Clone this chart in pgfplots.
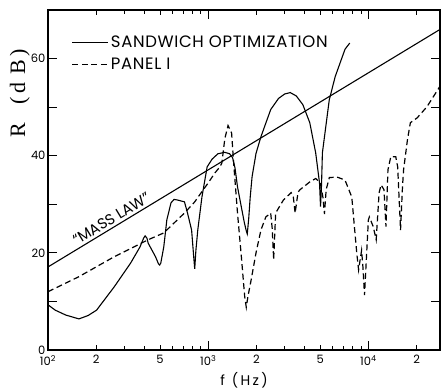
\documentclass[border=0pt]{standalone}
\usepackage{pgfplots}
\pgfplotsset{compat=1.18}
\usepackage{fontspec}
\setmainfont{Poppins}
\newfontfamily\seriffont{Liberation Serif}
\begin{document}
\begin{tikzpicture}
\begin{axis}[
  at={(0pt,0pt)}, anchor=south west,
  scale only axis, width=392pt, height=340pt,
  xmode=log, xmin=100, xmax=28000, ymin=0, ymax=70,
  axis line style={line width=1.1pt},
  tick align=inside, tick style={black, line width=0.8pt},
  major tick length=9pt, minor tick length=4pt,
  xtick={100,1000,10000},
  xticklabels={10\textsuperscript{2},10\textsuperscript{3},10\textsuperscript{4}},
  extra x ticks={200,500,2000,5000,20000},
  extra x tick labels={2,5,2,5,2},
  extra x tick style={major tick length=5pt},
  minor xtick={300,400,600,700,800,900,3000,4000,6000,7000,8000,9000,30000},
  ytick={0,10,20,30,40,50,60},
  yticklabels={0,,20,,40,,60},
  /pgf/number format/assume math mode=true,
  ticklabel style={font=\fontsize{11.5}{13}\selectfont},
  xticklabel style={yshift=-2pt},
  yticklabel style={xshift=1pt},
  xlabel={f\,\,\,(\,H\,z\,)},
  xlabel style={font=\fontsize{14}{16}\selectfont, at={(axis description cs:0.5,0)}, anchor=center, yshift=-30pt},
  ylabel={\seriffont R\enspace\,\,(\,d\,\,B\,)},
  ylabel style={font=\fontsize{22}{24}\selectfont, at={(axis description cs:-0.072,0.755)}, anchor=center},
  legend style={draw=none, fill=none, at={(0.06,0.93)}, anchor=north west,
    font=\fontsize{16.5}{19}\selectfont\addfontfeature{LetterSpace=4}, row sep=5pt, inner sep=0pt,
    /tikz/every even column/.append style={column sep=0pt}},
  legend cell align=left,
  legend image code/.code={\draw[#1] (0pt,0pt) -- (36pt,0pt);},
]
\addplot[black, line width=1.1pt] coordinates {
(100,9.3) (111,8.2) (129,7.2) (156,6.4) (178,7.1) (201,8.2) (259,13.0) (328,17.9)
(375,21.2) (395,23.0) (404,23.5) (415,23.0) (422,22.0) (469,19.2) (490,17.7)
(498,17.5) (506,17.9) (528,21.2) (552,26.8) (586,30.3) (612,31.0) (640,30.9)
(711,30.5) (743,28.2) (788,24.7) (812,19.2) (824,16.7) (838,20.5) (861,24.7)
(914,31.5) (985,37.7) (1058,39.3) (1150,40.4) (1270,40.7) (1360,40.4) (1420,39.6)
(1470,37.5) (1524,33.6) (1620,29.0) (1682,26.2) (1730,24.5) (1754,23.9) (1790,27.0)
(1830,31.5) (1880,35.7) (1990,40.5) (2134,43.9) (2456,49.5) (2750,51.8) (3000,52.7)
(3251,53.0) (3550,52.3) (3900,50.5) (4307,46.8) (4688,40.6) (4955,34.4) (5027,29.5)
(5100,34.0) (5164,40.6) (5700,51.5) (6208,56.3) (7145,61.9) (7650,63.2)
};
\addlegendentry{SANDWICH OPTIMIZATION}
\addplot[black, line width=1.2pt, dash pattern=on 6pt off 3.5pt] coordinates {
(100,12.0) (156,15.1) (259,19.2) (422,22.7) (528,24.1) (711,28.2) (824,30.5)
(914,32.6) (1000,34.4) (1104,36.5) (1183,37.7) (1217,38.5) (1270,43.5) (1330,46.2)
(1400,44.7) (1442,38.5) (1524,28.2) (1611,19.2) (1690,11.0) (1729,8.8) (1770,11.0)
(1854,14.4) (1989,20.0) (2134,24.7) (2291,27.4) (2456,28.2) (2510,25.0) (2563,18.6)
(2637,28.2) (2951,30.9) (3298,32.4) (3400,31.5) (3490,28.2) (3640,32.5) (3742,33.0)
(4307,34.6) (4688,35.3) (5000,34.5) (5200,31.5) (5320,28.0) (5450,33.0) (5706,35.5)
(6383,35.6) (7145,35.0) (7554,33.0) (7878,31.5) (8110,26.8) (8460,20.0) (8690,16.5)
(9070,20.5) (9250,17.0) (9460,11.3) (10000,26.8) (10140,27.4) (10720,25.4)
(11190,22.7) (11670,32.4) (12000,34.0) (12520,33.0) (12880,25.4) (13250,37.1)
(13800,39.8) (14820,39.8) (15240,37.7) (15880,24.7) (16330,33.6) (16590,37.1)
(17540,43.3) (18290,46.8) (20180,47.8) (23230,50.1) (27870,54.2)
};
\addlegendentry{PANEL I}
\addplot[black, line width=1.1pt, forget plot] coordinates {(100,17.1) (28000,66.0)};
\node[rotate=31.2, anchor=south, font=\fontsize{15}{17}\selectfont, inner sep=1.5pt]
  at (axis cs:262,25.8) {“MASS LAW"};
\end{axis}
\pgfresetboundingbox
\path (-48pt,-40pt) rectangle (394pt,350pt);
\end{tikzpicture}
\end{document}
